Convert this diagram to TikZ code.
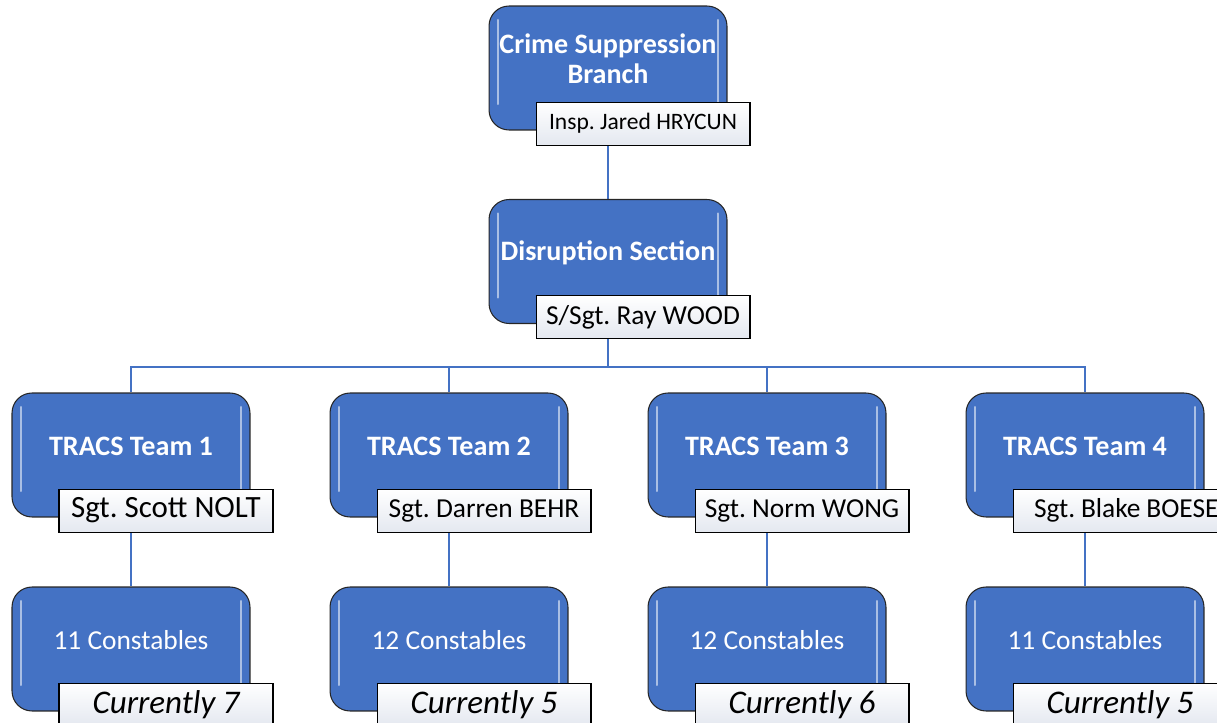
\documentclass[tikz,border=0pt]{standalone}
\usepackage{fontspec}
\setmainfont{Carlito}
\frenchspacing
\usetikzlibrary{calc,backgrounds}
\definecolor{unitblue}{RGB}{68,114,196}
\definecolor{tagbottom}{RGB}{228,232,240}
\tikzset{
  unit/.style={draw=black!85, line width=0.6pt, fill=unitblue, rounded corners=0.4cm,
    minimum width=4.76cm, minimum height=2.48cm, inner sep=0pt,
    path picture={
      \draw[white, opacity=0.55, line width=1.2pt, line cap=round]
        ($(path picture bounding box.north west)+(9,14)$) -- ($(path picture bounding box.south west)+(9,-26)$)
        ($(path picture bounding box.north east)+(-9,14)$) -- ($(path picture bounding box.south east)+(-9,-26)$);}},
  unittitle/.style={text=white, font=\bfseries\fontsize{16}{17}\selectfont, align=center, inner sep=0pt},
  unittext/.style={text=white, font=\fontsize{15.6}{17}\selectfont, inner sep=0pt},
  leadtag/.style={draw=black, line width=0.6pt, top color=white, bottom color=tagbottom,
    minimum width=4.28cm, minimum height=0.86cm, inner sep=0pt, anchor=north west},
  tagmid/.style={align=center},
  tagleft/.style={text width=3.44cm, align=left, inner xsep=0.42cm},
  orgline/.style={draw=unitblue, line width=1pt}
}
\begin{document}
\begin{tikzpicture}[x=0.02cm,y=-0.02cm]
\useasboundingbox (0,0) rectangle (1217,723);
\clip (0,0) rectangle (1217,723);
% branch and section
\node[unit] (b0) at (608,68) {};
\node[unittitle] (bt0) at ($(b0.center)+(0,-9)$) {Crime Suppression\\Branch};
\node[leadtag] (bl0) at ($(b0.south west)+(47,-29)$) {\fontsize{13.4}{15}\selectfont Insp. Jared HRYCUN};
\node[unit] (b1) at (608,261.5) {};
\node[unittitle] (bt1) at ($(b1.center)+(0,-9)$) {Disruption Section};
\node[leadtag] (bl1) at ($(b1.south west)+(47,-29)$) {\fontsize{15.6}{17}\selectfont S/Sgt. Ray WOOD};
% teams
\foreach \i/\x/\lead/\lsize/\lstyle/\cons/\cur in {
  1/131/Sgt. Scott NOLT/17.6/tagmid/11/7,
  2/449/Sgt. Darren BEHR/15.6/tagmid/12/5,
  3/767/Sgt. Norm WONG/15.6/tagmid/12/6,
  4/1085/Sgt. Blake BOESE/15.6/tagleft/11/5}{
  \node[unit] (t\i) at (\x,455) {};
  \node[unittitle] (tt\i) at ($(t\i.center)+(0,-9)$) {TRACS Team \i};
  \node[leadtag,\lstyle] (tl\i) at ($(t\i.south west)+(47,-29)$) {\fontsize{\lsize}{\lsize}\selectfont\mbox{\lead}};
  \node[unit] (c\i) at (\x,649) {};
  \node[unittext] (ct\i) at ($(c\i.center)+(0,-9)$) {\cons{} Constables};
  \node[leadtag,tagmid] (cl\i) at ($(c\i.south west)+(47,-29)$) {\fontsize{18.8}{20}\selectfont\itshape Currently \cur};
}
\begin{scope}[on background layer]
\draw[orgline] (b0.south) -- (b1.north);
\coordinate (bus) at ($(b1.south)+(0,43)$);
\foreach \i in {1,...,4} {
  \draw[orgline] (b1.south) -- (bus) -| (t\i.north);
  \draw[orgline] (t\i.south) -- (c\i.north);
}
\end{scope}
\end{tikzpicture}
\end{document}
